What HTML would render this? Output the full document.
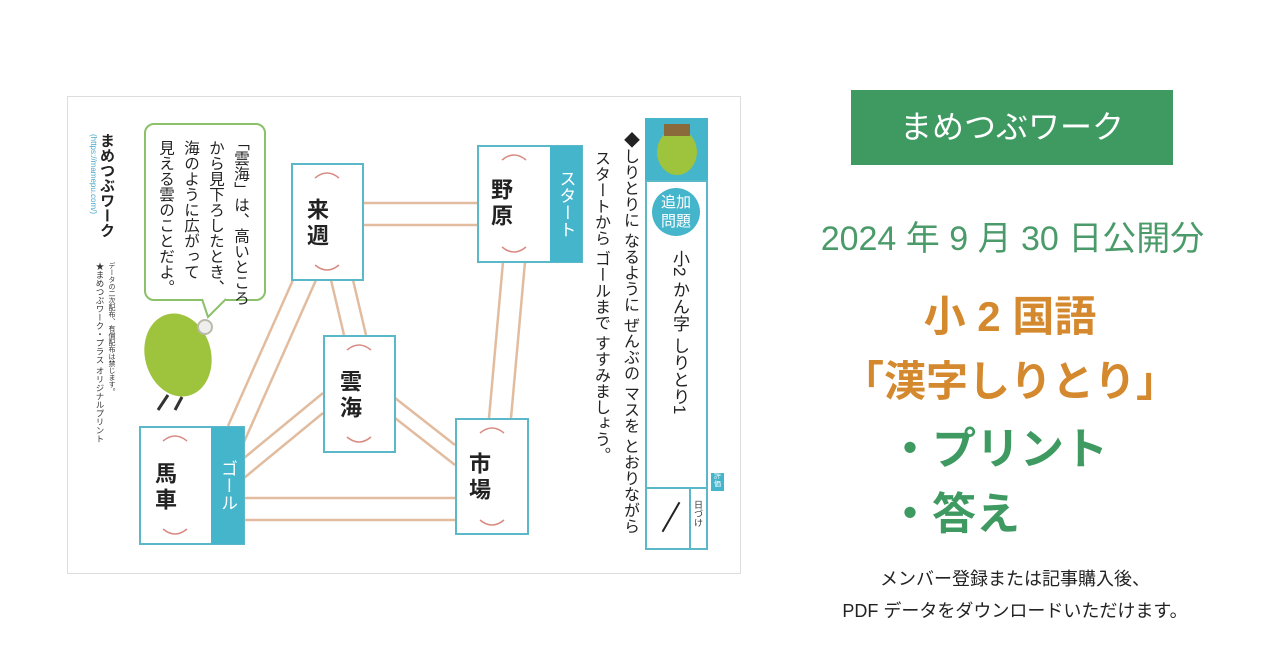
<!DOCTYPE html>
<html><head><meta charset="utf-8"><style>
body{margin:0;width:1280px;height:670px;background:#fff;position:relative;overflow:hidden;font-family:"Liberation Sans","Noto Sans CJK JP",sans-serif;}
.a{position:absolute}
.v{writing-mode:vertical-rl;position:absolute;white-space:nowrap}
.box{position:absolute;border:2px solid #5bb8c8;background:#fff;box-sizing:border-box}
.tab{position:absolute;background:#45b5cc;color:#fff;font-size:17px;writing-mode:vertical-rl;text-align:center;display:flex;align-items:center;justify-content:center;box-sizing:border-box}
.kj{position:absolute;writing-mode:vertical-rl;font-size:22px;font-weight:bold;color:#222;letter-spacing:4px}
.c{position:absolute;text-align:center;white-space:nowrap}
.bt{font-size:15.5px;color:#222;line-height:16px}
.it{font-size:16px;color:#222;line-height:16px}
</style></head><body>
<div class="a" style="left:67px;top:96px;width:674px;height:478px;border:1px solid #ddd;box-sizing:border-box"></div>
<svg class="a" style="left:0;top:0" width="1280" height="670">
<g stroke="#e2bc9f" stroke-width="2.5" fill="none">
<line x1="363" y1="203" x2="477" y2="203"/><line x1="363" y1="225" x2="477" y2="225"/>
<line x1="503" y1="262" x2="489" y2="418"/><line x1="525" y1="262" x2="511" y2="418"/>
<line x1="331" y1="280" x2="344" y2="335"/><line x1="353" y1="280" x2="366" y2="335"/>
<line x1="293" y1="280" x2="228" y2="426"/><line x1="316" y1="280" x2="244" y2="442"/>
<line x1="323" y1="393" x2="244" y2="458"/><line x1="323" y1="413" x2="244" y2="478"/>
<line x1="395" y1="398" x2="455" y2="445"/><line x1="395" y1="418" x2="455" y2="465"/>
<line x1="244" y1="498" x2="455" y2="498"/><line x1="244" y1="520" x2="455" y2="520"/>
</g></svg>
<div class="box" style="left:291px;top:163px;width:73px;height:118px"></div>
<div class="kj" style="left:300px;top:198px">来週</div>
<div class="box" style="left:477px;top:145px;width:106px;height:118px"></div>
<div class="tab" style="left:550px;top:146px;width:32px;height:116px">スタート</div>
<div class="kj" style="left:484px;top:178px">野原</div>
<div class="box" style="left:323px;top:335px;width:73px;height:118px"></div>
<div class="kj" style="left:333px;top:370px">雲海</div>
<div class="box" style="left:455px;top:418px;width:74px;height:117px"></div>
<div class="kj" style="left:462px;top:452px">市場</div>
<div class="box" style="left:139px;top:426px;width:106px;height:119px"></div>
<div class="tab" style="left:211px;top:427px;width:33px;height:117px">ゴール</div>
<div class="kj" style="left:148px;top:462px">馬車</div>
<svg class="a" style="left:0;top:0" width="1280" height="670"><g stroke="#d98a82" stroke-width="1.5" fill="none">
<path d="M315 178 Q327 168 339 178"/><path d="M315 265 Q327 275 339 265"/>
<path d="M502 160 Q514 150 526 160"/><path d="M502 247 Q514 257 526 247"/>
<path d="M347 350 Q359 340 371 350"/><path d="M347 437 Q359 447 371 437"/>
<path d="M480 433 Q492 423 504 433"/><path d="M480 520 Q492 530 504 520"/>
<path d="M163 441 Q175 431 187 441"/><path d="M163 529 Q175 539 187 529"/>
</g>
<ellipse cx="178" cy="355" rx="33" ry="42" fill="#9dc43c" transform="rotate(-15 178 355)"/>
<circle cx="205" cy="327" r="7" fill="#eee" stroke="#bba" stroke-width="2"/>
<path d="M168 395 L158 410 M182 397 L175 410" stroke="#333" stroke-width="3"/>
<rect x="645" y="118" width="63" height="62" fill="#45b5cc"/>
<ellipse cx="677" cy="152" rx="20" ry="23" fill="#9dc43c"/>
<rect x="664" y="124" width="26" height="12" fill="#8a6a3a"/>
</svg>
<div class="v" style="left:96px;top:133px;font-size:15px;font-weight:bold;color:#222">まめつぶワーク</div>
<div class="v" style="left:89px;top:134px;font-size:8px;color:#4aa8c8">(https://mamepu.com/)</div>
<div class="v" style="left:106px;top:262px;font-size:7px;color:#333">データの二次配布、有償配布は禁じます。</div>
<div class="v" style="left:94px;top:262px;font-size:8.5px;color:#333">★まめつぶワーク・プラス オリジナルプリント</div>
<div class="a" style="left:144px;top:123px;width:122px;height:178px;border:2px solid #8cc06a;border-radius:10px;box-sizing:border-box;background:#fff"></div>
<svg class="a" style="left:200px;top:297px" width="30" height="25"><path d="M2 2 L8 20 L26 2" fill="#fff" stroke="#8cc06a" stroke-width="2"/><rect x="4" y="0" width="20" height="3" fill="#fff"/></svg>
<div class="v bt" style="left:232px;top:135px">「雲海」は、高いところ</div>
<div class="v bt" style="left:207px;top:140px">から見下ろしたとき、</div>
<div class="v bt" style="left:182px;top:140px">海のように広がって</div>
<div class="v bt" style="left:157px;top:140px">見える雲のことだよ。</div>
<div class="a" style="left:645px;top:180px;width:63px;height:370px;border:2px solid #5bb8c8;box-sizing:border-box"></div>
<div class="a" style="left:652px;top:188px;width:48px;height:48px;border-radius:50%;background:#45b5cc;color:#fff;font-size:15px;line-height:19px;text-align:center;padding-top:5px;box-sizing:border-box">追加<br>問題</div>
<div class="v" style="left:667px;top:250px;font-size:17px;color:#222">小2 かん字 しりとり1</div>
<div class="a" style="left:645px;top:487px;width:63px;height:2px;background:#5bb8c8"></div>
<div class="a" style="left:689px;top:487px;width:2px;height:63px;background:#5bb8c8"></div>
<div class="a" style="left:654px;top:516px;width:34px;height:2px;background:#222;transform:rotate(-60deg)"></div>
<div class="v" style="left:692px;top:500px;font-size:9px;color:#333">日づけ</div>
<div class="a" style="left:711px;top:473px;width:13px;height:18px;background:#45b5cc;color:#fff;font-size:7px;line-height:8px;text-align:center">評価</div>
<div class="v it" style="left:621px;top:132px">◆しりとりに なるように ぜんぶの マスを とおりながら</div>
<div class="v it" style="left:592px;top:150px">スタートから ゴールまで すすみましょう。</div>
<div class="a" style="left:851px;top:90px;width:322px;height:75px;background:#3f9a62;color:#fff;font-size:32px;line-height:75px;text-align:center">まめつぶワーク</div>
<div class="c" style="left:800px;width:425px;top:211px;font-size:34px;color:#4a9a6a">2024 年 9 月 30 日公開分</div>
<div class="c" style="left:900px;width:220px;top:283px;font-size:42px;font-weight:bold;color:#d4892e">小 2 国語</div>
<div class="c" style="left:835px;width:350px;top:348px;font-size:42px;font-weight:bold;color:#d4892e">「漢字しりとり」</div>
<div class="a" style="left:888px;top:413px;font-size:44px;font-weight:bold;color:#3f9a62;white-space:nowrap">・プリント</div>
<div class="a" style="left:888px;top:478px;font-size:44px;font-weight:bold;color:#3f9a62;white-space:nowrap">・答え</div>
<div class="c" style="left:800px;width:430px;top:565px;font-size:18px;color:#222">メンバー登録または記事購入後、</div>
<div class="c" style="left:800px;width:430px;top:597px;font-size:18px;color:#222">PDF データをダウンロードいただけます。</div>
</body></html>
